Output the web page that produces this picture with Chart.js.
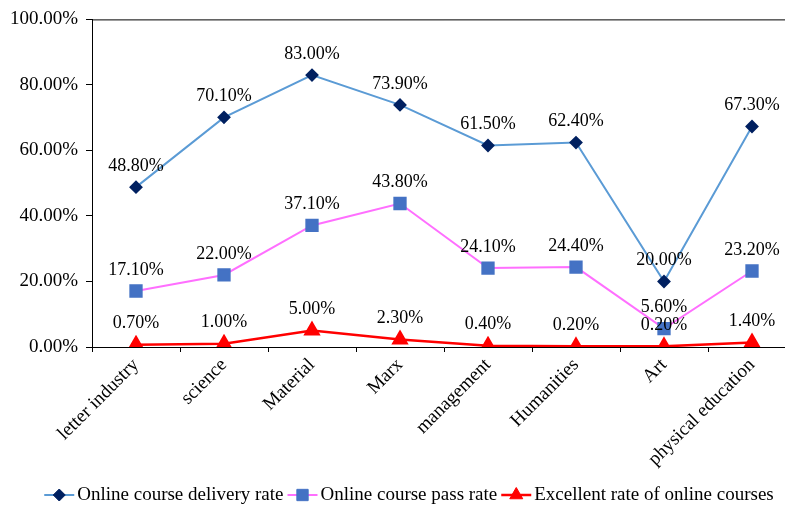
<!DOCTYPE html>
<html>
<head>
<meta charset="utf-8">
<script src="https://cdn.jsdelivr.net/npm/chart.js@4.4.0/dist/chart.umd.min.js"></script>
<style>
  html, body { margin: 0; padding: 0; background: #fff; overflow: hidden; }
  #wrap { width: 785px; height: 508px; overflow: hidden; }
</style>
</head>
<body>
<div id="wrap"><canvas id="c" width="806" height="508"></canvas></div>
<script>
// ---- data ----
const categories = ['letter industry', 'science', 'Material', 'Marx', 'management', 'Humanities', 'Art', 'physical education'];
const deliveryRate = [48.8, 70.1, 83.0, 73.9, 61.5, 62.4, 20.0, 67.3];
const passRate = [17.1, 22.0, 37.1, 43.8, 24.1, 24.4, 5.6, 23.2];
const excellentRate = [0.7, 1.0, 5.0, 2.3, 0.4, 0.2, 0.2, 1.4];
const yTicks = [0, 20, 40, 60, 80, 100];

const FONT = "'Liberation Serif', 'Times New Roman', serif";

// value labels above each point
const pointLabels = {
  id: 'pointLabels',
  afterDatasetsDraw(chart) {
    const ctx = chart.ctx;
    ctx.save();
    ctx.font = '18px ' + FONT;
    ctx.fillStyle = '#000';
    ctx.textAlign = 'center';
    ctx.textBaseline = 'middle';
    chart.data.datasets.forEach((ds, i) => {
      chart.getDatasetMeta(i).data.forEach((pt, j) => {
        ctx.fillText(ds.data[j].toFixed(2) + '%', pt.x, pt.y - 21);
      });
    });
    ctx.restore();
  }
};

// plot-area frame (top edge) and bottom legend with line + marker
const frameAndLegend = {
  id: 'frameAndLegend',
  afterDraw(chart) {
    const ctx = chart.ctx;
    const a = chart.chartArea;
    ctx.save();
    ctx.strokeStyle = '#000';
    ctx.lineWidth = 1;
    ctx.beginPath();
    ctx.moveTo(a.left, a.top + 0.5);
    ctx.lineTo(a.right, a.top + 0.5);
    ctx.stroke();

    ctx.font = '19px ' + FONT;
    ctx.textBaseline = 'middle';
    const lineLen = 30, gap = 3, itemGap = 4;
    const items = chart.data.datasets;
    let total = 0;
    items.forEach((ds, i) => {
      total += lineLen + gap + ctx.measureText(ds.label).width;
      if (i < items.length - 1) total += itemGap;
    });
    let x = 409 - total / 2;
    const y = 495;
    items.forEach((ds) => {
      ctx.strokeStyle = ds.borderColor;
      ctx.lineWidth = ds.borderWidth;
      ctx.beginPath();
      ctx.moveTo(x, y);
      ctx.lineTo(x + lineLen, y);
      ctx.stroke();
      ctx.fillStyle = ds.pointBackgroundColor;
      ctx.strokeStyle = ds.pointBorderColor;
      ctx.lineWidth = 1;
      Chart.helpers.drawPoint(ctx, {
        pointStyle: ds.pointStyle,
        radius: ds.legendRadius,
        rotation: 0,
        borderWidth: 1
      }, x + lineLen / 2, y);
      ctx.fillStyle = '#000';
      ctx.textAlign = 'left';
      ctx.fillText(ds.label, x + lineLen + gap, y);
      x += lineLen + gap + ctx.measureText(ds.label).width + itemGap;
    });
    ctx.restore();
  }
};

new Chart(document.getElementById('c'), {
  type: 'line',
  data: {
    labels: categories,
    datasets: [{
      label: 'Online course delivery rate',
      data: deliveryRate,
      borderColor: '#5B9BD5',
      borderWidth: 2,
      pointStyle: 'rectRot',
      pointRadius: 5.5,
      legendRadius: 6,
      pointBackgroundColor: '#002060',
      pointBorderColor: '#002060',
      tension: 0
    }, {
      label: 'Online course pass rate',
      data: passRate,
      borderColor: '#FF6FFF',
      borderWidth: 2,
      pointStyle: 'rect',
      pointRadius: 8,
      legendRadius: 8,
      pointBackgroundColor: '#4472C4',
      pointBorderColor: '#4472C4',
      tension: 0
    }, {
      label: 'Excellent rate of online courses',
      data: excellentRate,
      borderColor: '#FF0000',
      borderWidth: 2.5,
      pointStyle: 'triangle',
      pointRadius: 7.5,
      legendRadius: 7.5,
      pointBackgroundColor: '#FF0000',
      pointBorderColor: '#FF0000',
      tension: 0
    }]
  },
  options: {
    responsive: false,
    animation: false,
    devicePixelRatio: 1,
    layout: { padding: { top: 19, right: 4, left: 0, bottom: 0 } },
    plugins: { legend: { display: false }, tooltip: { enabled: false } },
    scales: {
      x: {
        offset: true,
        afterFit(scale) { scale.height = 161; },
        border: { display: true, color: '#000', width: 1 },
        grid: { offset: true, drawOnChartArea: false, drawTicks: true, tickLength: 5, color: '#000' },
        ticks: {
          color: '#000',
          font: { family: FONT, size: 19 },
          minRotation: 45,
          maxRotation: 45,
          autoSkip: false,
          padding: 2
        }
      },
      y: {
        min: 0,
        max: 100,
        afterFit(scale) { scale.width = 92; },
        afterBuildTicks(scale) { scale.ticks = yTicks.map(v => ({ value: v })); },
        border: { display: true, color: '#000', width: 1 },
        grid: { drawOnChartArea: false, drawTicks: true, tickLength: 6, color: '#000' },
        ticks: {
          color: '#000',
          font: { family: FONT, size: 19 },
          padding: 8,
          callback: v => v.toFixed(2) + '%'
        }
      }
    }
  },
  plugins: [pointLabels, frameAndLegend]
});
</script>
</body>
</html>
